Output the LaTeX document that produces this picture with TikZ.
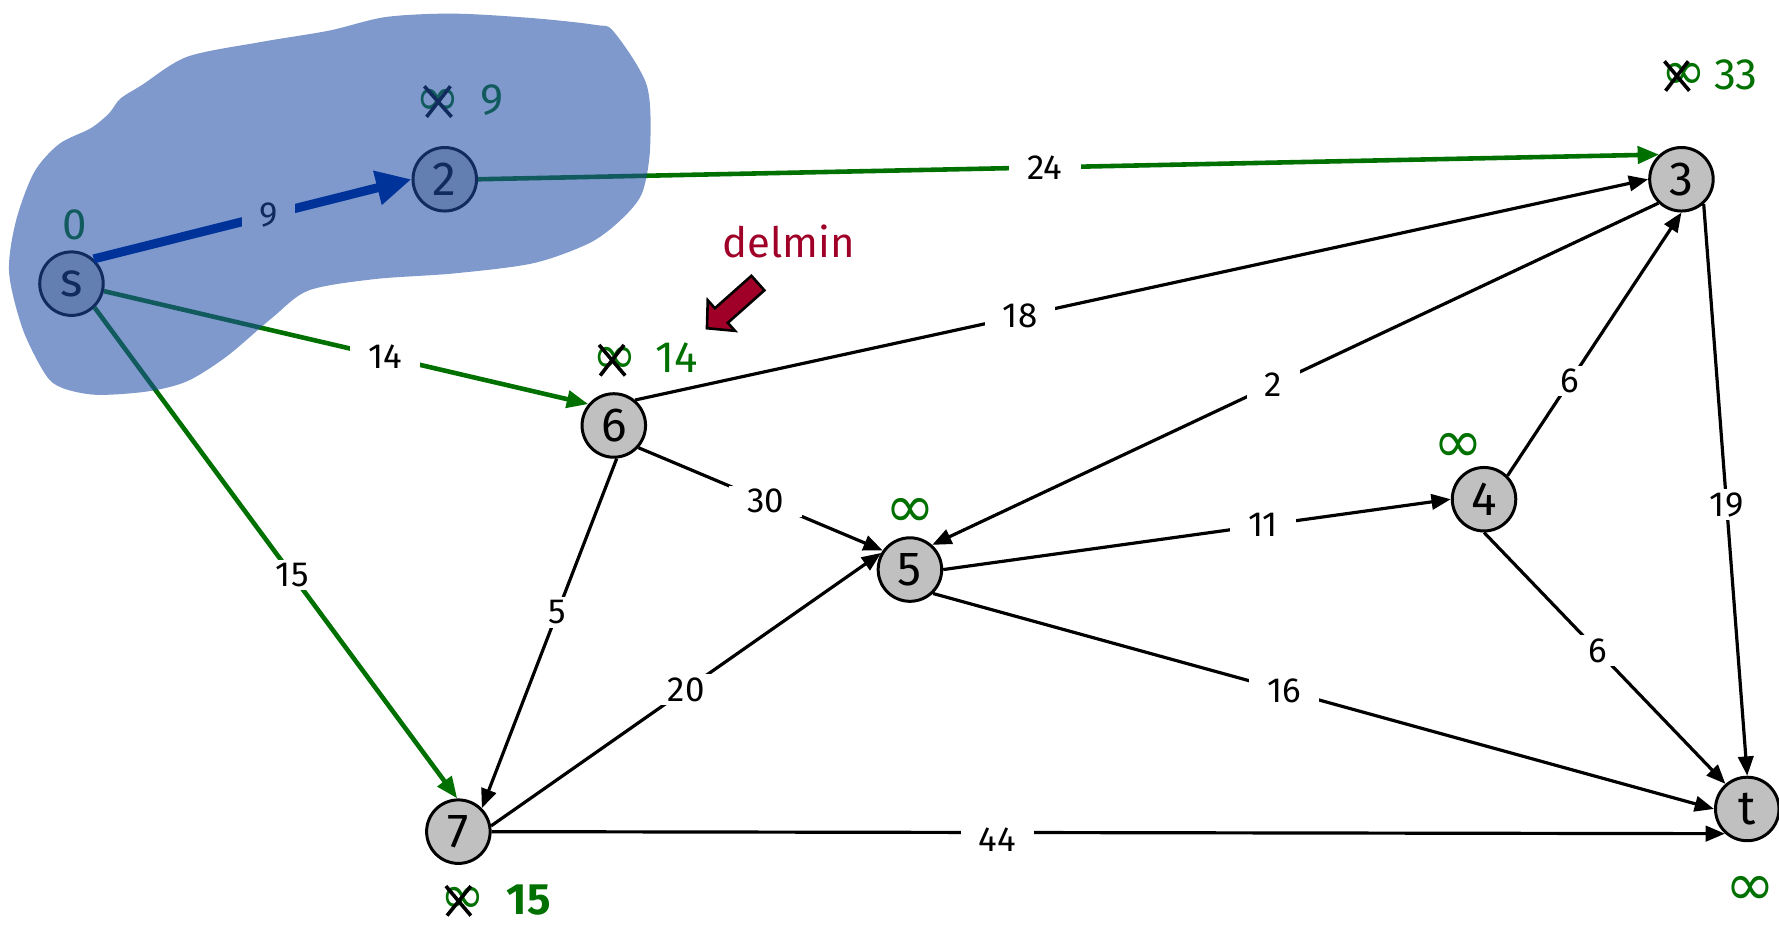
\documentclass[tikz,border=0pt]{standalone}
\usepackage{fontspec}
\setmainfont{Fira Sans}
\newfontfamily\symfont{DejaVu Sans}
\usetikzlibrary{arrows.meta}
\definecolor{egreen}{RGB}{0,112,0}
\definecolor{blobc}{RGB}{30,76,166}
\definecolor{barrow}{RGB}{0,51,153}
\definecolor{blobw}{RGB}{127,153,204}
\definecolor{navy}{RGB}{17,43,95}
\definecolor{dred}{RGB}{160,0,40}
\definecolor{ngray}{RGB}{192,192,192}
\begin{document}
\begin{tikzpicture}[x=0.02cm,y=-0.02cm,
 vtx/.style={circle,draw=black,line width=1.5pt,fill=ngray,minimum size=1.12cm,inner sep=0pt,font=\fontsize{24}{26}\selectfont},
 wl/.style={fill=white,inner xsep=0.32cm,inner ysep=0.06cm,font=\fontsize{17.5}{19}\selectfont,text=black},
 blk/.style={draw=black,line width=1.6pt,-{Triangle[length=0.34cm,width=0.27cm]}},
 grn/.style={draw=egreen,line width=2.3pt,-{Triangle[length=0.38cm,width=0.3cm]}},
 dist/.style={text=egreen,font=\fontsize{22}{24}\selectfont,inner sep=0pt},
 inf/.style={text=egreen,font=\fontsize{27}{27}\selectfont\symfont,inner sep=0pt},
 binf/.style={text=egreen,font=\fontsize{30}{30}\selectfont\symfont,inner sep=0pt},
 xline/.style={line width=1.8pt,draw=black}
]
\useasboundingbox (0,0) rectangle (1568,816);

% vertices
\node[vtx] (s) at (63,250) {s};
\node[vtx] (2) at (392,158) {2};
\node[vtx] (3) at (1482,158) {3};
\node[vtx] (6) at (541,375) {6};
\node[vtx] (5) at (802,502) {5};
\node[vtx] (4) at (1308,440) {4};
\node[vtx] (7) at (404,733) {7};
\node[vtx] (t) at (1540,713) {t};

% edges
\draw[grn] (s.-13) -- node[wl,pos=0.58]{14} (6.140);
\draw[grn] (s.-46) -- node[wl,pos=0.545]{15} (7.92);
\draw[grn] (2.0) -- node[wl,pos=0.48]{24} (3.132);
\draw[blk] (6.50) -- node[wl,pos=0.38]{18} (3.180);
\draw[blk] (6.-42) -- node[wl,pos=0.52]{30} (5.145);
\draw[blk] (6.-85) -- node[wl,pos=0.44]{5} (7.45);
\draw[blk] (3.226) -- node[wl,pos=0.53]{2} (5.48);
\draw[blk] (4.45) -- node[wl,pos=0.36]{6} (3.270);
\draw[blk] (3.312) -- node[wl,pos=0.526]{19} (t.90);
\draw[blk] (5.0) -- node[wl,pos=0.63]{11} (4.180);
\draw[blk] (5.-46) -- node[wl,pos=0.45]{16} (t.180);
\draw[blk] (4.270) -- node[wl,pos=0.47]{6} (t.131);
\draw[blk] (7.10) -- node[wl,pos=0.5]{20} (5.150);
\draw[blk] (7.0) -- node[wl,pos=0.41,yshift=-0.12cm]{44} (t.228);

% distance labels
\node[dist] (d0) at (66,198) {0};
\node[inf] (i2) at (386,90) {∞};
\draw[xline] ([shift={(-12,-14)}]i2.center) -- ([shift={(12,13)}]i2.center);
\draw[xline] ([shift={(11,-14)}]i2.center) -- ([shift={(-10,13)}]i2.center);
\node[dist] (d2) at (434,88) {9};

\node[inf] (i3) at (1484,67) {∞};
\draw[xline] ([shift={(-17,-13)}]i3.center) -- ([shift={(5,13)}]i3.center);
\draw[xline] ([shift={(4,-13)}]i3.center) -- ([shift={(-16,13)}]i3.center);
\node[dist] (d3) at (1530,66) {33};

\node[inf] (i6) at (542,318) {∞};
\draw[xline] ([shift={(-14,-14)}]i6.center) -- ([shift={(9,13)}]i6.center);
\draw[xline] ([shift={(8,-14)}]i6.center) -- ([shift={(-13,13)}]i6.center);
\node[dist] (d6) at (596,315) {14};

\node[inf] (i7) at (408,794) {∞};
\draw[xline] ([shift={(-15,-13)}]i7.center) -- ([shift={(7,13)}]i7.center);
\draw[xline] ([shift={(7,-13)}]i7.center) -- ([shift={(-14,13)}]i7.center);
\node[dist,font=\fontsize{22}{24}\selectfont\bfseries] (d7) at (466,793) {15};

\node[binf] (i5) at (802,452) {∞};
\node[binf] (i4) at (1285,395) {∞};
\node[binf] (it) at (1543,785) {∞};

% delmin pointer
\node[text=dred,font=\fontsize{21}{24}\selectfont] (dm) at (695,213) {delmin};
\filldraw[fill=dred,draw=black,line width=1.3pt,line join=miter]
  (673.7,255.9) -- (641.5,284.5) -- (647.8,291.6) -- (623.1,289.3) -- (623.8,264.6) -- (630.1,271.7) -- (662.3,243.1) -- cycle;

% blob
\fill[blobc,opacity=0.57] plot[smooth cycle,tension=0.5] coordinates {
 (40,330) (20,290) (8,240) (14,195) (30,152) (52,127) (80,113) (96,100) (106,87)
 (125,75) (165,50) (230,37) (290,27) (340,15) (400,12) (470,16) (525,22) (541,28)
 (570,75) (573,130) (566,170) (548,193) (520,214) (470,232) (400,241) (330,246)
 (272,256) (240,280) (200,314) (165,336) (130,345) (85,348) (55,342)};

% blue arrow on top
\draw[draw=barrow,line width=4.5pt,-{Triangle[length=0.62cm,width=0.58cm]}] (s.48) -- node[pos=0.55,fill=blobw,text=navy,inner xsep=0.3cm,inner ysep=0.06cm,font=\fontsize{17.5}{19}\selectfont]{9} (2.180);
\end{tikzpicture}
\end{document}
